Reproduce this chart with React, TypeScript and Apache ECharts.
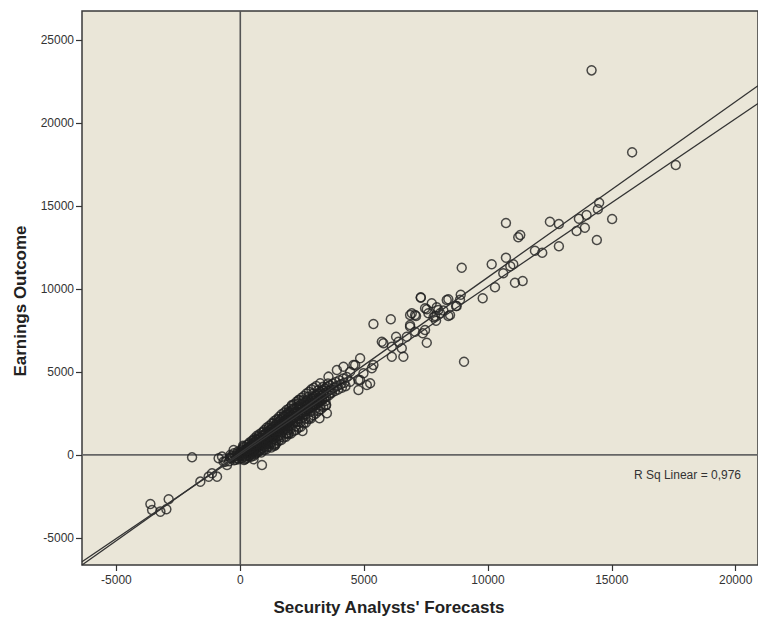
import React, { useEffect, useRef } from "react";
import * as echarts from "echarts";

const X_MIN = -6390;
const X_MAX = 20900;
const Y_MIN = -6630;
const Y_MAX = 26750;

const xTicks = [-5000, 0, 5000, 10000, 15000, 20000];
const yTicks = [-5000, 0, 5000, 10000, 15000, 20000, 25000];

const xTitle = "Security Analysts' Forecasts";
const yTitle = "Earnings Outcome";
const rsqLabel = "R Sq Linear = 0,976";

// two straight lines drawn across the plot: [slope, intercept]
const fitLineUpper = [1.058, 130];
const fitLineLower = [1.012, 30];

// scattered points away from the dense band
const outerPoints: number[][] = [
  [14181, 23174], [15818, 18235], [17580, 17470], [14487, 15199], [14435, 14801],
  [15011, 14217], [14394, 12952], [13669, 14235], [13979, 14458], [13910, 13693],
  [13576, 13494], [12862, 13915], [12499, 14054], [12862, 12572], [10725, 13976],
  [11302, 13253], [11221, 13114], [11894, 12307], [12189, 12187], [8939, 11283],
  [10149, 11488], [10725, 11885], [11020, 11488], [10900, 11370], [10616, 10946],
  [11088, 10379], [11399, 10482], [10282, 10102], [8899, 9657], [8870, 9350],
  [7286, 9476], [8399, 9380], [9786, 9440], [9032, 5620],
  [7730, 9138], [7931, 8897], [8334, 9337], [8709, 8976], [8467, 8434],
  [8064, 8536], [7593, 8536], [7459, 8837], [8200, 8700], [7800, 8300],
  [8737, 8976], [8399, 8373], [7995, 8735], [7862, 8373], [7903, 8090],
  [7528, 8777], [7056, 8434], [6923, 8536], [6854, 7831],
  [7528, 6765], [6854, 7729], [7459, 7530], [7366, 7331], [7056, 7428],
  [6721, 7126], [5713, 6825], [5778, 6729], [6290, 7126], [6383, 6825],
  [6520, 6428], [6117, 6524], [6584, 5922], [6117, 5922], [5375, 7891],
  [6076, 8175], [6854, 8434], [7096, 8373], [7286, 9500],
  [4838, 5825], [4637, 5422], [5310, 5223], [4972, 4922], [4435, 5018],
  [4770, 4518], [5109, 4217], [4770, 3916], [4165, 5319], [3899, 5120],
  [4435, 4416], [4838, 4518], [5242, 4319], [5375, 5422], [4568, 5422],
  [3560, 4717], [3226, 4319], [3496, 2512], [3197, 2211], [3468, 3012],
  [3629, 3717], [3359, 3717], [2351, 3313], [2085, 3012], [2512, 1446],
  [1947, 1307], [1411, 602], [875, -602], [536, -259], [1371, 542],
  [1077, 705], [1883, 1307],
  [-605, -404], [-738, -102], [-270, 301], [-1947, -139], [-875, -199],
  [-1613, -1608], [-1278, -1307], [-939, -1307], [-1141, -1102], [-2891, -2669],
  [-3629, -2952], [-3560, -3313], [-3226, -3416], [-2984, -3271], [-673, -404],
  [-536, -602], [-403, 0],
];

// dense band of points near the origin
const bandPoints: number[][] = [
  [-450, -380], [-380, -200], [-300, -150], [-250, -320], [-200, -50], [-150, -200],
  [-120, 80], [-80, -100], [-50, 20], [-20, 150], [0, -80],
  [50, 120], [80, -60], [120, 250], [150, 60], [180, 300], [200, -100], [220, 180],
  [260, 350], [280, 90], [300, 420], [320, 200], [350, -50], [380, 500], [400, 260],
  [420, 120], [450, 600], [470, 380], [500, 200], [520, 700], [540, 450], [560, 300],
  [580, 50], [600, 800], [620, 550], [650, 400], [670, 900], [690, 650], [700, 250],
  [720, 480], [750, 950], [770, 700], [790, 550], [800, 300], [820, 1050], [850, 800],
  [870, 620], [880, 400], [900, 1150], [920, 900], [940, 700], [960, 1000], [980, 500],
  [1000, 1250], [1020, 1000], [1040, 800], [1060, 1350], [1080, 1100], [1100, 900],
  [1120, 650], [1140, 1400], [1160, 1200], [1180, 1000], [1200, 1500], [1220, 1300],
  [1240, 1050], [1260, 800], [1280, 1600], [1300, 1350], [1320, 1150], [1340, 1700],
  [1360, 1450], [1380, 1250], [1400, 1000], [1420, 1800], [1440, 1550], [1460, 1350],
  [1480, 1900], [1500, 1650], [1520, 1400], [1540, 1150], [1560, 2000], [1580, 1750],
  [1600, 1500], [1620, 2100], [1640, 1850], [1660, 1600], [1680, 1350], [1700, 2200],
  [1720, 1950], [1740, 1700], [1760, 2300], [1780, 2050], [1800, 1800], [1820, 1550],
  [1840, 2400], [1860, 2150], [1880, 1900], [1900, 2450], [1920, 2200], [1940, 1950],
  [1960, 1700], [1980, 2550], [2000, 2300], [2030, 2050], [2060, 2650], [2090, 2400],
  [2120, 2150], [2150, 2750], [2180, 2500], [2210, 2250], [2240, 2000], [2270, 2850],
  [2300, 2600], [2330, 2350], [2360, 2950], [2390, 2700], [2420, 2450], [2450, 3050],
  [2480, 2800], [2510, 2550], [2540, 2300], [2570, 3150], [2600, 2900], [2630, 2650],
  [2660, 3250], [2690, 3000], [2720, 2750], [2750, 3350], [2780, 3100], [2810, 2850],
  [2840, 2600], [2870, 3400], [2900, 3150], [2930, 2900], [2960, 3500], [2990, 3250],
  [3020, 3000], [3050, 3600], [3080, 3350], [3110, 3100], [3140, 3700], [3170, 3450],
  [3200, 3200], [3230, 3800], [3260, 3550], [3290, 3300], [3320, 3900], [3350, 3650],
  [3380, 3400], [3410, 4000], [3440, 3750], [3470, 3500], [3500, 4100], [3540, 3850],
  [3580, 3600], [3620, 4200], [3660, 3950], [3700, 3750], [3740, 4300], [3780, 4050],
  [3820, 3850], [3860, 4400], [3900, 4150], [3950, 3950], [4000, 4500], [4050, 4250],
  [4100, 4050], [4150, 4600], [4200, 4350], [4250, 4150], [4300, 4700],
  [100, 400], [230, -50], [330, 450], [430, 300], [530, 150], [630, 950], [730, 600],
  [830, 350], [930, 1200], [1030, 700], [1130, 1050], [1230, 1550], [1330, 950],
  [1430, 1250], [1530, 1800], [1630, 1200], [1730, 1500], [1830, 2100], [1930, 1500],
  [2030, 2500], [2130, 1900], [2230, 2600], [2330, 2000], [2430, 2900], [2530, 2700],
  [2630, 2200], [2730, 3000], [2830, 3200], [2930, 3400],
  [60, -200], [140, 500], [240, 100], [340, 650], [440, -100], [540, 900], [640, 150],
  [740, 1100], [840, 550], [940, 1400], [1040, 450], [1140, 1600], [1240, 700],
  [1340, 1900], [1440, 900], [1540, 2150], [1640, 1100], [1740, 2350], [1840, 1300],
  [1940, 2600], [2040, 1600], [2140, 2800], [2240, 1750], [2340, 3100], [2440, 2000],
  [2540, 3300], [2640, 2450], [2740, 3500], [2840, 2300], [2940, 3700], [3040, 2800],
  [3140, 3900], [3240, 3000], [3340, 4100], [3440, 3250], [3540, 4300],
  [30, 300], [110, 550], [190, -250], [270, 600], [370, 750], [470, 850], [570, 1000],
  [670, 1150], [770, 1250], [870, 1350], [970, 1500], [1070, 1650], [1170, 1750],
  [1270, 1900], [1370, 2050], [1470, 2150], [1570, 2300], [1670, 2450], [1770, 2550],
  [1870, 2700], [1970, 2800], [2070, 2950], [2170, 3050], [2270, 3200], [2370, 3300],
  [2470, 3450], [2570, 3550], [2670, 3700], [2770, 3800], [2870, 3950], [2970, 4050],
  [3070, 4150],
  [150, -300], [250, -200], [350, -100], [450, 50], [550, -50], [650, 100], [750, 200],
  [850, 150], [950, 300], [1050, 350], [1150, 500], [1250, 450], [1350, 650], [1450, 700],
  [1550, 850], [1650, 900], [1750, 1050], [1850, 1100], [1950, 1250], [2050, 1300],
  [2150, 1450], [2250, 1500], [2350, 1650], [2450, 1700], [2550, 1900], [2650, 1950],
  [2750, 2150], [2850, 2200], [2950, 2400], [3050, 2500], [3150, 2650], [3250, 2750],
  [3350, 2900], [3450, 3000],
  [10, 50], [90, 150], [170, 200], [250, 280], [330, 330], [410, 420], [490, 500],
  [570, 600], [650, 650], [730, 760], [810, 850], [890, 880], [970, 1020], [1050, 1100],
  [1130, 1150], [1210, 1250], [1290, 1330], [1370, 1420], [1450, 1500], [1530, 1580],
  [1610, 1680], [1690, 1720], [1770, 1850], [1850, 1900], [1930, 2000], [2010, 2080],
  [2090, 2150], [2170, 2230], [2250, 2330], [2330, 2400], [2410, 2480], [2490, 2560],
  [2570, 2650], [2650, 2700], [2730, 2800], [2810, 2900], [2890, 2950], [2970, 3050],
  [3050, 3150], [3130, 3200], [3210, 3300], [3290, 3380],
  [-420, -150], [-330, -50], [-260, 100], [-180, -280], [-100, 200], [-60, -250],
];

const BG = "#EAE6D8";
const INK = "#1f1f1f";
const LABEL = "#333333";

export default function App() {
  const ref = useRef<HTMLDivElement>(null);

  useEffect(() => {
    document.body.style.margin = "0";
    if (!ref.current) return;
    const chart = echarts.init(ref.current, undefined, { renderer: "svg" });

    const lineData = (c: number[]) => [
      [X_MIN, c[0] * X_MIN + c[1]],
      [X_MAX, c[0] * X_MAX + c[1]],
    ];

    const scatterStyle = {
      color: "rgba(0,0,0,0)",
      borderColor: INK,
      borderWidth: 1.5,
    };

    const labelStyle = {
      formatter: (v: number) => String(v),
      color: LABEL,
      fontFamily: "Liberation Sans, Arial, sans-serif",
      fontSize: 12,
    };

    chart.setOption({
      animation: false,
      backgroundColor: "#ffffff",
      grid: {
        left: 82,
        top: 11,
        right: 0,
        bottom: 54,
        show: true,
        backgroundColor: BG,
        borderColor: "#3a3a3a",
        borderWidth: 1.5,
      },
      xAxis: {
        type: "value",
        min: X_MIN,
        max: X_MAX,
        splitLine: { show: false },
        axisLine: { show: false, onZero: false },
        axisTick: {
          show: true,
          inside: false,
          length: 6,
          customValues: xTicks,
          lineStyle: { color: "#333", width: 1.2 },
        },
        axisLabel: { ...labelStyle, customValues: xTicks, margin: 9 },
      },
      yAxis: {
        type: "value",
        min: Y_MIN,
        max: Y_MAX,
        splitLine: { show: false },
        axisLine: { show: false, onZero: false },
        axisTick: {
          show: true,
          inside: false,
          length: 6,
          customValues: yTicks,
          lineStyle: { color: "#333", width: 1.2 },
        },
        axisLabel: { ...labelStyle, customValues: yTicks, margin: 8 },
      },
      graphic: [
        {
          type: "text",
          x: 389,
          y: 607,
          style: {
            text: xTitle,
            fill: "#222",
            font: "bold 17px 'Liberation Sans', Arial, sans-serif",
            align: "center",
            verticalAlign: "middle",
          },
        },
        {
          type: "text",
          x: 20,
          y: 301,
          rotation: Math.PI / 2,
          style: {
            text: yTitle,
            fill: "#222",
            font: "bold 17px 'Liberation Sans', Arial, sans-serif",
            align: "center",
            verticalAlign: "middle",
          },
        },
        {
          type: "text",
          x: 741,
          y: 475,
          style: {
            text: rsqLabel,
            fill: "#333",
            font: "12px 'Liberation Sans', Arial, sans-serif",
            align: "right",
            verticalAlign: "middle",
          },
        },
      ],
      series: [
        {
          type: "line",
          data: [[0, Y_MIN], [0, Y_MAX]],
          symbol: "none",
          lineStyle: { color: "#555", width: 1.6 },
          silent: true,
          z: 1,
        },
        {
          type: "line",
          data: [[X_MIN, 0], [X_MAX, 0]],
          symbol: "none",
          lineStyle: { color: "#666", width: 1.8 },
          silent: true,
          z: 1,
        },
        {
          type: "scatter",
          data: bandPoints,
          symbol: "circle",
          symbolSize: 9,
          itemStyle: scatterStyle,
          z: 2,
        },
        {
          type: "scatter",
          data: outerPoints,
          symbol: "circle",
          symbolSize: 9,
          itemStyle: scatterStyle,
          z: 2,
        },
        {
          type: "line",
          data: lineData(fitLineUpper),
          symbol: "none",
          lineStyle: { color: "#333", width: 1.3 },
          z: 3,
        },
        {
          type: "line",
          data: lineData(fitLineLower),
          symbol: "none",
          lineStyle: { color: "#333", width: 1.3 },
          z: 3,
        },
      ],
    });

    return () => chart.dispose();
  }, []);

  return (
    <div
      ref={ref}
      style={{ position: "absolute", left: 0, top: 0, width: 758, height: 619 }}
    />
  );
}
